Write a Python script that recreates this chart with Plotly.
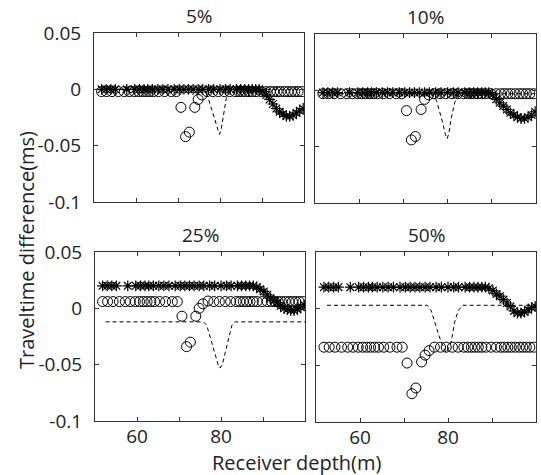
import plotly.graph_objects as go

# ---------------- data ----------------
panel_titles = ["5%", "10%", "25%", "50%"]

# receiver depths of the circle series (m)
circle_depth = [51.8, 53.0, 54.3, 55.8, 57.2, 58.4, 59.6, 60.6, 61.5, 62.4, 63.3, 64.2, 65.4, 66.8, 68.4, 69.6,
                70.7, 71.8, 72.7, 74.0, 74.8, 75.7, 76.9,
                78.3, 79.6, 81.0, 82.3, 83.6, 84.5, 85.3, 86.1, 86.9, 87.7, 88.6, 89.8, 91.0, 92.0, 92.8,
                93.6, 94.4, 95.3, 96.2, 97.0, 97.8, 98.6, 99.5]

circle_5 = [-0.002] * 16 + [-0.016, -0.042, -0.038, -0.016, -0.009, -0.005, -0.002] + [-0.002] * 23
circle_10 = [-0.003] * 16 + [-0.018, -0.044, -0.041, -0.017, -0.008, -0.004, -0.003] + [-0.003] * 23
circle_25 = [0.006] * 16 + [-0.007, -0.034, -0.030, -0.007, 0.000, 0.004, 0.0065] + [0.006] * 23
circle_50 = [-0.034] * 16 + [-0.048, -0.075, -0.070, -0.047, -0.041, -0.037, -0.034] + [-0.034] * 23

# receiver depths of the asterisk series (m)
star_depth = [51.8, 52.9, 54.0, 55.1, 57.8, 59.7, 60.8, 61.9, 62.8, 63.9, 65.2, 66.4, 67.6, 69.1, 70.3,
              71.4, 72.5, 73.6, 74.8, 75.9, 77.3, 78.5, 80.0, 81.3, 82.4, 83.9, 84.9, 85.9, 86.8, 87.7,
              88.5, 89.3, 90.2, 91.0, 91.8, 92.6, 93.4, 94.2, 95.0, 95.8, 96.6, 97.4, 98.2, 99.0, 99.8]

star_5 = [0.0] * 32 + [-0.002, -0.005, -0.009, -0.013, -0.017, -0.020, -0.022, -0.024, -0.024,
                       -0.023, -0.021, -0.019, -0.017]
star_10 = [-0.002] * 32 + [-0.004, -0.008, -0.011, -0.014, -0.017, -0.020, -0.022, -0.024, -0.025,
                           -0.025, -0.024, -0.022, -0.019]
star_25 = [0.020] * 30 + [0.019, 0.017, 0.015, 0.012, 0.009, 0.007, 0.005, 0.002, 0.000, -0.001,
                          -0.002, -0.002, -0.001, 0.001, 0.003]
star_50 = [0.019] * 31 + [0.018, 0.016, 0.013, 0.011, 0.008, 0.005, 0.002, -0.002, -0.004, -0.004,
                          -0.003, -0.001, 0.001, 0.002]

# dashed reference curves
dash_x_5 = [52.5, 76.5, 77.2, 78.0, 78.8, 79.5, 79.9, 80.3, 80.8, 81.5, 82.3, 100]
dash_y_5 = [0.0, 0.0, -0.008, -0.017, -0.027, -0.036, -0.040, -0.035, -0.022, -0.008, 0.0, 0.0]
dash_x_10 = [52.5, 76.5, 77.5, 78.2, 78.9, 79.5, 79.9, 80.3, 80.8, 81.6, 82.4, 100]
dash_y_10 = [-0.003, -0.003, -0.009, -0.018, -0.029, -0.039, -0.043, -0.038, -0.025, -0.011, -0.003, -0.003]
dash_x_25 = [52.5, 75.8, 76.6, 77.6, 78.6, 79.4, 79.8, 80.3, 81.1, 81.7, 82.6, 83.4, 100]
dash_y_25 = [-0.012, -0.012, -0.015, -0.028, -0.042, -0.051, -0.053, -0.050, -0.038, -0.028, -0.015, -0.012, -0.012]
dash_x_50 = [52.5, 75.3, 76.2, 77.0, 77.8, 78.5, 79.6, 80.7, 81.5, 82.3, 83.3, 100]
dash_y_50 = [0.003, 0.003, -0.002, -0.011, -0.022, -0.030, -0.039, -0.030, -0.012, -0.002, 0.003, 0.003]

x_ticks = [60, 70, 80, 90]
x_tick_text = ["60", "", "80", ""]
y_ticks = [0.05, 0, -0.05, -0.1]
y_tick_text = ["0.05", "0", "-0.05", "-0.1"]

# ---------------- figure ----------------
W, H = 541, 475
FONT = "Open Sans"
FS = 19
TITLE_FS = 20
panels = [
    (circle_5, star_5, dash_x_5, dash_y_5),
    (circle_10, star_10, dash_x_10, dash_y_10),
    (circle_25, star_25, dash_x_25, dash_y_25),
    (circle_50, star_50, dash_x_50, dash_y_50),
]
# pixel boxes (left, right, top, bottom)
boxes = [(94, 304, 33, 202), (315, 536, 34, 203), (95, 305, 252, 421), (316, 536, 252, 422)]

fig = go.Figure()
layout = dict(template="none", width=W, height=H, margin=dict(l=0, r=0, t=0, b=0, pad=0),
              paper_bgcolor="white", plot_bgcolor="white", showlegend=False,
              font=dict(family=FONT, size=FS, color="#222"))
annotations = []
for i, (cy, sy, dx, dy) in enumerate(panels):
    n = "" if i == 0 else str(i + 1)
    xa, ya = "x" + n, "y" + n
    fig.add_trace(go.Scatter(x=circle_depth, y=cy, mode="markers", xaxis=xa, yaxis=ya,
                             marker=dict(symbol="circle-open", size=10, color="black",
                                         line=dict(width=1, color="black"))))
    fig.add_trace(go.Scatter(x=star_depth, y=sy, mode="markers", xaxis=xa, yaxis=ya,
                             marker=dict(symbol="asterisk-open", size=9, color="black",
                                         line=dict(width=1.2, color="black"))))
    fig.add_trace(go.Scatter(x=dx, y=dy, mode="lines", xaxis=xa, yaxis=ya,
                             line=dict(color="black", width=1, dash="4px,3px")))
    l, r, t, b = boxes[i]
    bottom_row = i >= 2
    left_col = i % 2 == 0
    layout["xaxis" + n] = dict(domain=[l / W, r / W], range=[50, 100], anchor=ya, automargin=False,
                               showline=True, linecolor="#333", linewidth=1, mirror="ticks",
                               ticks="inside", ticklen=4, tickcolor="#333", tickwidth=1,
                               tickvals=x_ticks, ticktext=x_tick_text, showgrid=False, zeroline=False,
                               showticklabels=bottom_row, ticklabelstandoff=-2,
                               tickfont=dict(size=FS, color="#222"))
    layout["yaxis" + n] = dict(domain=[1 - b / H, 1 - t / H], range=[-0.1, 0.05], anchor=xa, automargin=False,
                               showline=True, linecolor="#333", linewidth=1, mirror="ticks",
                               ticks="inside", ticklen=4, tickcolor="#333", tickwidth=1,
                               tickvals=y_ticks, ticktext=y_tick_text, showgrid=False, zeroline=False,
                               showticklabels=left_col, ticklabelstandoff=8,
                               tickfont=dict(size=FS, color="#222"))
    annotations.append(dict(text=panel_titles[i], xref="paper", yref="paper",
                            x=(l + r) / 2 / W, y=1 - (t - 17) / H, showarrow=False,
                            xanchor="center", yanchor="middle", font=dict(size=FS, color="#222")))

annotations.append(dict(text="Receiver depth(m)", xref="paper", yref="paper",
                        x=297 / W, y=1 - 462 / H, showarrow=False, xanchor="center", yanchor="middle",
                        font=dict(size=TITLE_FS, color="#222")))
annotations.append(dict(text="Traveltime difference(ms)", xref="paper", yref="paper",
                        x=26 / W, y=1 - 250 / H, showarrow=False, xanchor="center", yanchor="middle",
                        textangle=-90, font=dict(size=TITLE_FS, color="#222")))
layout["annotations"] = annotations
fig.update_layout(**layout)
fig.write_html("out.html", config={"displayModeBar": False},
               post_script="document.body.style.margin='0';document.body.style.overflow='hidden';")
